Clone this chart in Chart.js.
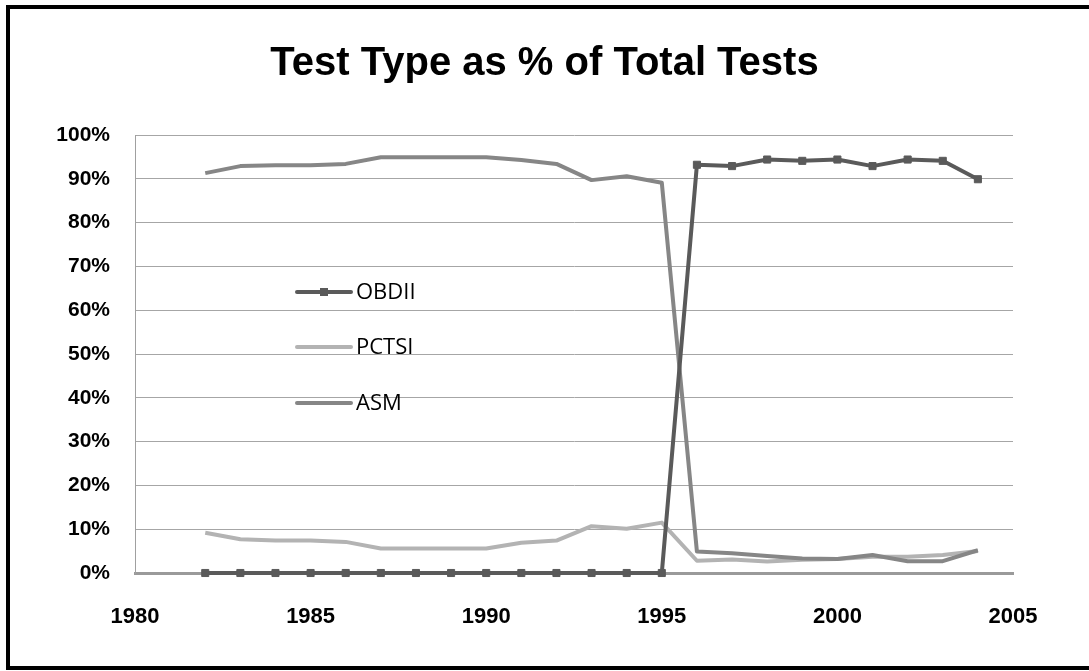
<!DOCTYPE html>
<html lang="en">
<head>
    <meta charset="UTF-8">
    <title>Test Type as % of Total Tests</title>
    <script src="https://cdn.jsdelivr.net/npm/chart.js"></script>
    <style>
        html, body {
            margin: 0;
            padding: 0;
            background: #fff;
            overflow: hidden;
        }
        #wrap {
            position: absolute;
            left: 0;
            top: 0;
            width: 1089px;
            height: 671px;
        }
        #frame {
            position: absolute;
            left: 6px;
            top: 5px;
            right: -10px;
            bottom: 1px;
            border: 4px solid #000;
            pointer-events: none;
        }
    </style>
</head>
<body>

    <div id="wrap">
        <canvas id="testChart" width="1089" height="671"></canvas>
        <div id="frame"></div>
    </div>

    <script>
        // years and shares (percent of total tests)
        const years = [1982, 1983, 1984, 1985, 1986, 1987, 1988, 1989, 1990, 1991, 1992, 1993,
                       1994, 1995, 1996, 1997, 1998, 1999, 2000, 2001, 2002, 2003, 2004];
        const obdii = [0, 0, 0, 0, 0, 0, 0, 0, 0, 0, 0, 0,
                       0, 0, 93.2, 92.9, 94.4, 94.1, 94.4, 92.9, 94.4, 94.1, 89.9];
        const pctsi = [9.2, 7.7, 7.4, 7.4, 7.1, 5.6, 5.6, 5.6, 5.6, 6.9, 7.4, 10.7,
                       10.1, 11.5, 2.8, 3.1, 2.6, 3.0, 3.2, 3.7, 3.7, 4.1, 5.0];
        const asm = [91.3, 92.9, 93.1, 93.1, 93.4, 94.9, 94.9, 94.9, 94.9, 94.3, 93.4, 89.7,
                     90.6, 89.1, 4.9, 4.5, 3.9, 3.3, 3.2, 4.1, 2.7, 2.7, 5.2];
        const xTicks = [1980, 1985, 1990, 1995, 2000, 2005];

        const toPoints = vals => years.map((yr, i) => ({ x: yr, y: vals[i] }));

        // legend drawn inside the plot, like the original
        const insideLegend = {
            id: 'insideLegend',
            afterDraw(chart) {
                const ctx = chart.ctx;
                const area = chart.chartArea;
                const x0 = area.left + 162;
                const rows = [area.top + 157, area.top + 212, area.top + 268];
                ctx.save();
                ctx.font = '22px "Open Sans", sans-serif';
                ctx.textBaseline = 'middle';
                ctx.fillStyle = '#000';
                chart.data.datasets.forEach((ds, i) => {
                    const y = rows[i];
                    ctx.strokeStyle = ds.borderColor;
                    ctx.lineWidth = ds.borderWidth;
                    ctx.lineCap = 'round';
                    ctx.beginPath();
                    ctx.moveTo(x0, y);
                    ctx.lineTo(x0 + 54, y);
                    ctx.stroke();
                    if (ds.pointRadius > 0) {
                        ctx.fillStyle = ds.borderColor;
                        ctx.fillRect(x0 + 23, y - 4, 8, 8);
                        ctx.fillStyle = '#000';
                    }
                    ctx.fillText(ds.label, x0 + 59, y + 1);
                });
                ctx.restore();
            }
        };

        const ctx = document.getElementById('testChart').getContext('2d');

        new Chart(ctx, {
            type: 'line',
            data: {
                datasets: [
                    {
                        label: 'OBDII',
                        data: toPoints(obdii),
                        borderColor: '#5a5a5a',
                        backgroundColor: '#5a5a5a',
                        borderWidth: 4,
                        pointStyle: 'rect',
                        pointRadius: 5,
                        pointBorderWidth: 1,
                        clip: false,
                        order: 1
                    },
                    {
                        label: 'PCTSI',
                        data: toPoints(pctsi),
                        borderColor: '#b3b3b3',
                        backgroundColor: '#b3b3b3',
                        borderWidth: 4,
                        pointRadius: 0,
                        clip: false,
                        order: 3
                    },
                    {
                        label: 'ASM',
                        data: toPoints(asm),
                        borderColor: '#868686',
                        backgroundColor: '#868686',
                        borderWidth: 4,
                        pointRadius: 0,
                        clip: false,
                        order: 2
                    }
                ]
            },
            options: {
                responsive: false,
                animation: false,
                layout: {
                    padding: 0
                },
                elements: {
                    line: { tension: 0, borderJoinStyle: 'round' }
                },
                plugins: {
                    legend: { display: false },
                    tooltip: { enabled: false },
                    title: {
                        display: true,
                        text: 'Test Type as % of Total Tests',
                        color: '#000',
                        font: { family: '"Liberation Sans", Arial, sans-serif', size: 40, weight: 'bold' },
                        padding: { top: 40, bottom: 47 }
                    }
                },
                scales: {
                    x: {
                        type: 'linear',
                        min: 1980,
                        max: 2005,
                        afterFit: s => { s.height = 98; },
                        afterBuildTicks: s => { s.ticks = xTicks.map(v => ({ value: v })); },
                        grid: { display: false },
                        border: { display: true, color: '#9a9a9a', width: 3 },
                        ticks: {
                            padding: 23,
                            color: '#000',
                            maxRotation: 0,
                            font: { family: '"Liberation Sans", Arial, sans-serif', size: 22, weight: 'bold' },
                            callback: v => String(v)
                        }
                    },
                    y: {
                        min: 0,
                        max: 100,
                        afterFit: s => { s.width = 135; },
                        grid: { color: '#a6a6a6', lineWidth: 1, drawTicks: false },
                        border: { display: true, color: '#a0a0a0', width: 1 },
                        ticks: {
                            stepSize: 10,
                            padding: 25,
                            color: '#000',
                            font: { family: '"Liberation Sans", Arial, sans-serif', size: 21, weight: 'bold' },
                            callback: v => v + '%'
                        }
                    },
                    // empty right-hand axis keeps the blank margin so the title stays centred on the page
                    yRight: {
                        position: 'right',
                        min: 0,
                        max: 100,
                        afterFit: s => { s.width = 76; },
                        grid: { display: false, drawOnChartArea: false },
                        border: { display: false },
                        ticks: { display: false }
                    }
                }
            },
            plugins: [insideLegend]
        });
    </script>

</body>
</html>
